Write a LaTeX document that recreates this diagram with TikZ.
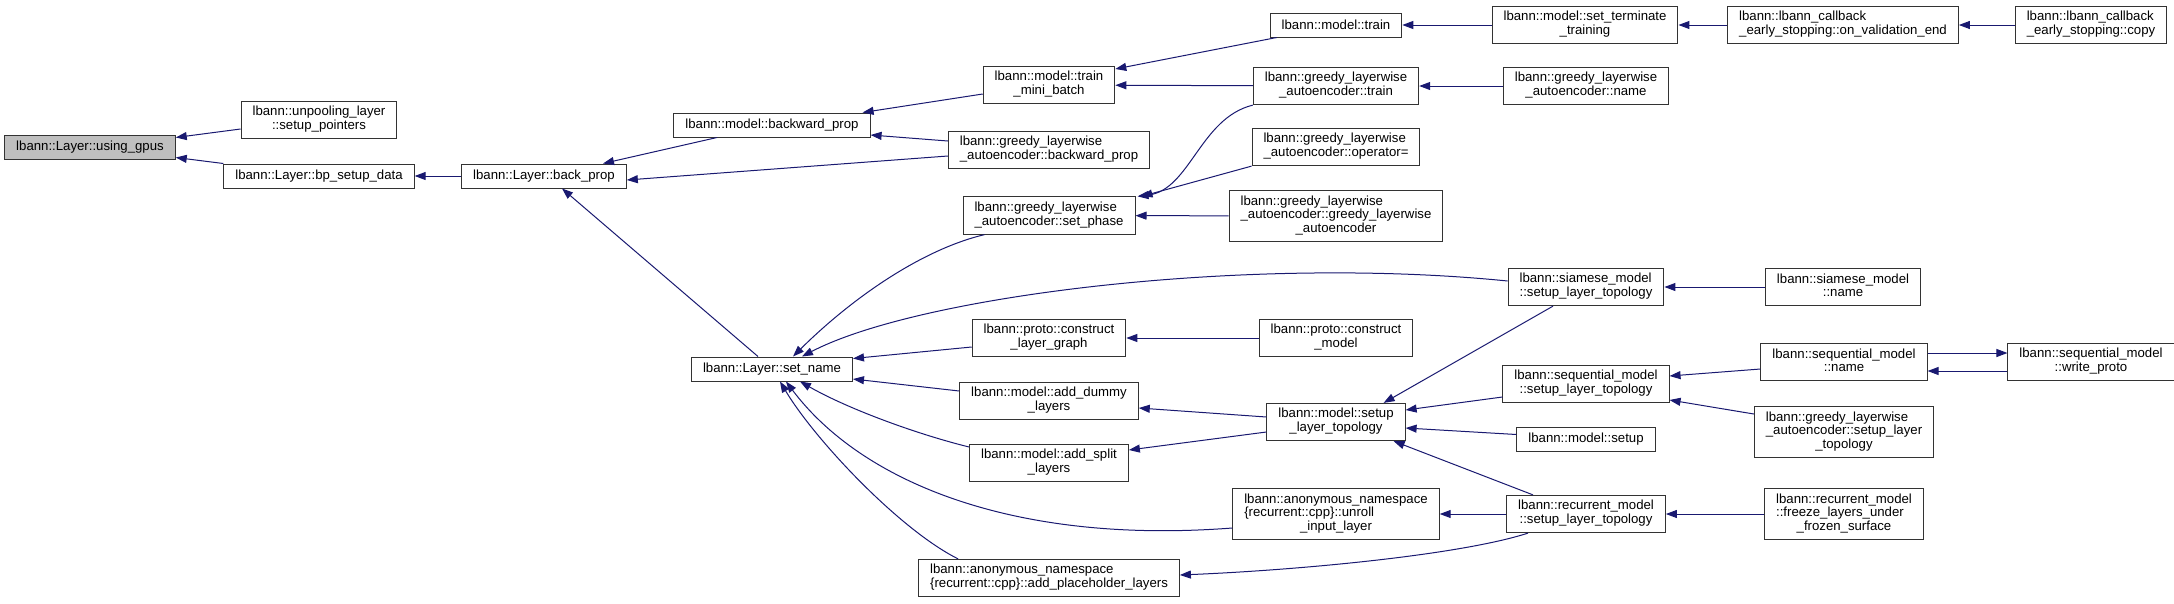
\documentclass[tikz,border=0pt]{standalone}
\usepackage{fontspec}
\setmainfont{Liberation Sans}
\usetikzlibrary{arrows.meta}
\definecolor{callblue}{HTML}{191970}
\tikzset{
    fnnode/.style={
        draw=black!80,
        line width=1pt,
        font=\fontsize{13.2}{13.5}\selectfont,
        inner xsep=11.5pt,
        inner ysep=5pt,
        minimum height=24pt
    },
    callarrow/.style={
        {Triangle[length=11pt,width=8pt]}-,
        draw=callblue,
        line width=1pt
    }
}
\newcommand{\twolines}[2]{\begin{tabular}{@{}l@{}}#1\\\multicolumn{1}{@{}c@{}}{#2}\end{tabular}}
\newcommand{\threelines}[3]{\begin{tabular}{@{}l@{}}#1\\#2\\\multicolumn{1}{@{}c@{}}{#3}\end{tabular}}

\begin{document}
\begin{tikzpicture}
[
    x=1pt,
    y=-1pt
]
\useasboundingbox (0,0) rectangle (2174,603);
\node[fnnode, fill=black!25] (usinggpus) at (90,147.5) {lbann::Layer::using\_gpus};
\node[fnnode] (setuppointers) at (319,120) {\twolines{lbann::unpooling\_layer}{::setup\_pointers}};
\node[fnnode] (bpsetupdata) at (319,176) {lbann::Layer::bp\_setup\_data};
\node[fnnode] (backprop) at (544,176) {lbann::Layer::back\_prop};
\node[fnnode] (backwardprop) at (772,125) {lbann::model::backward\_prop};
\node[fnnode] (setname) at (772,369) {lbann::Layer::set\_name};
\node[fnnode] (trainminibatch) at (1049,85) {\twolines{lbann::model::train}{\_mini\_batch}};
\node[fnnode] (gbackwardprop) at (1049,150) {\twolines{lbann::greedy\_layerwise}{\_autoencoder::backward\_prop}};
\node[fnnode] (setphase) at (1049,215.5) {\twolines{lbann::greedy\_layerwise}{\_autoencoder::set\_phase}};
\node[fnnode] (constructlayergraph) at (1049,338) {\twolines{lbann::proto::construct}{\_layer\_graph}};
\node[fnnode] (adddummylayers) at (1049,401) {\twolines{lbann::model::add\_dummy}{\_layers}};
\node[fnnode] (addsplitlayers) at (1049,463) {\twolines{lbann::model::add\_split}{\_layers}};
\node[fnnode] (addplaceholder) at (1049,578) {\twolines{lbann::anonymous\_namespace}{\{recurrent::cpp\}::add\_placeholder\_layers}};
\node[fnnode] (modeltrain) at (1336,25) {lbann::model::train};
\node[fnnode] (gtrain) at (1336,86) {\twolines{lbann::greedy\_layerwise}{\_autoencoder::train}};
\node[fnnode] (goperator) at (1336,147) {\twolines{lbann::greedy\_layerwise}{\_autoencoder::operator=}};
\node[fnnode] (gctor) at (1336,216) {\threelines{lbann::greedy\_layerwise}{\_autoencoder::greedy\_layerwise}{\_autoencoder}};
\node[fnnode] (constructmodel) at (1336,338) {\twolines{lbann::proto::construct}{\_model}};
\node[fnnode] (modelsetuptopo) at (1336,422) {\twolines{lbann::model::setup}{\_layer\_topology}};
\node[fnnode] (unrollinput) at (1336,514) {\threelines{lbann::anonymous\_namespace}{\{recurrent::cpp\}::unroll}{\_input\_layer}};
\node[fnnode] (setterminate) at (1585,25) {\twolines{lbann::model::set\_terminate}{\_training}};
\node[fnnode] (gname) at (1586,86) {\twolines{lbann::greedy\_layerwise}{\_autoencoder::name}};
\node[fnnode] (siamesetopo) at (1586,287) {\twolines{lbann::siamese\_model}{::setup\_layer\_topology}};
\node[fnnode] (seqtopo) at (1586,384) {\twolines{lbann::sequential\_model}{::setup\_layer\_topology}};
\node[fnnode] (modelsetup) at (1586,439.5) {lbann::model::setup};
\node[fnnode] (recurrenttopo) at (1586,514) {\twolines{lbann::recurrent\_model}{::setup\_layer\_topology}};
\node[fnnode] (onvalidationend) at (1843,25) {\twolines{lbann::lbann\_callback}{\_early\_stopping::on\_validation\_end}};
\node[fnnode] (siamesename) at (1843,287) {\twolines{lbann::siamese\_model}{::name}};
\node[fnnode] (seqname) at (1844,362) {\twolines{lbann::sequential\_model}{::name}};
\node[fnnode] (gsetuptopo) at (1844,432) {\threelines{lbann::greedy\_layerwise}{\_autoencoder::setup\_layer}{\_topology}};
\node[fnnode] (freezelayers) at (1844,514) {\threelines{lbann::recurrent\_model}{::freeze\_layers\_under}{\_frozen\_surface}};
\node[fnnode] (copy) at (2091,25) {\twolines{lbann::lbann\_callback}{\_early\_stopping::copy}};
\node[fnnode] (writeproto) at (2091,362) {\twolines{lbann::sequential\_model}{::write\_proto}};

\draw[callarrow] ([yshift=10pt]usinggpus.east) -- ([yshift=-9pt]setuppointers.west);
\draw[callarrow] ([yshift=-10pt]usinggpus.east) -- (bpsetupdata.north west);
\draw[callarrow] (bpsetupdata) -- (backprop);
\draw[callarrow] ([xshift=59pt]backprop.north) -- ([xshift=-55pt]backwardprop.south);
\draw[callarrow] ([yshift=-4pt]backprop.east) -- ([yshift=-6pt]gbackwardprop.west);
\draw[callarrow] ([xshift=18pt]backprop.south) -- ([xshift=-14pt]setname.north);
\draw[callarrow] ([xshift=-8pt]backwardprop.north east) -- ([yshift=-9pt]trainminibatch.west);
\draw[callarrow] ([yshift=-10pt]backwardprop.east) -- ([yshift=9pt]gbackwardprop.west);
\draw[callarrow] ([yshift=16pt]trainminibatch.east) -- ([xshift=7pt]modeltrain.south west);
\draw[callarrow] (trainminibatch) -- (gtrain);
\draw[callarrow] (modeltrain) -- (setterminate);
\draw[callarrow] (setterminate) -- (onvalidationend);
\draw[callarrow] (onvalidationend) -- (copy);
\draw[callarrow] (gtrain) -- (gname);
\draw[callarrow] ([xshift=2pt]setphase.north east) .. controls (1190,190) and (1200,118) .. (gtrain.south west);
\draw[callarrow] ([xshift=6pt]setphase.north east) -- (goperator.south west);
\draw[callarrow] (setphase) -- (gctor);
\draw[callarrow] ([xshift=21pt]setname.north) .. controls (850,300) and (920,250) .. ([xshift=22pt]setphase.south west);
\draw[callarrow] ([xshift=30pt]setname.north) .. controls (920,295) and (1250,255) .. ([yshift=6pt]siamesetopo.west);
\draw[callarrow] ([yshift=-2pt]setname.north east) -- ([yshift=-9pt]constructlayergraph.west);
\draw[callarrow] ([yshift=-10pt]setname.east) -- ([yshift=10pt]adddummylayers.west);
\draw[callarrow] ([xshift=28pt]setname.south) .. controls (850,410) and (920,435) .. ([yshift=16pt]addsplitlayers.west);
\draw[callarrow] ([xshift=14pt]setname.south) .. controls (860,480) and (1010,545) .. ([yshift=-14pt]unrollinput.west);
\draw[callarrow] ([xshift=8pt]setname.south) .. controls (815,440) and (900,530) .. ([xshift=40pt]addplaceholder.north west);
\draw[callarrow] (constructlayergraph) -- (constructmodel);
\draw[callarrow] ([yshift=-7pt]adddummylayers.east) -- ([yshift=5pt]modelsetuptopo.west);
\draw[callarrow] ([yshift=13pt]addsplitlayers.east) -- ([yshift=-10pt]modelsetuptopo.west);
\draw[callarrow] ([xshift=-22pt]modelsetuptopo.north east) -- ([xshift=-33pt]siamesetopo.south);
\draw[callarrow] ([yshift=12pt]modelsetuptopo.east) -- ([yshift=-13pt]seqtopo.west);
\draw[callarrow] ([yshift=-6pt]modelsetuptopo.east) -- ([yshift=5pt]modelsetup.west);
\draw[callarrow] ([xshift=-12pt]modelsetuptopo.south east) -- ([xshift=-53pt]recurrenttopo.north);
\draw[callarrow] (unrollinput) -- (recurrenttopo);
\draw[callarrow] ([yshift=3pt]addplaceholder.east) .. controls (1300,570) and (1460,555) .. ([xshift=-58pt]recurrenttopo.south);
\draw[callarrow] (siamesetopo) -- (siamesename);
\draw[callarrow] ([yshift=8pt]seqtopo.east) -- ([yshift=-7pt]seqname.west);
\draw[callarrow] ([yshift=-16pt]seqtopo.east) -- ([yshift=18pt]gsetuptopo.west);
\draw[callarrow] ([yshift=-9pt]seqname.east) -- ([yshift=-9pt]writeproto.west);
\draw[callarrow] ([yshift=9pt]writeproto.west) -- ([yshift=9pt]seqname.east);
\draw[callarrow] (recurrenttopo) -- (freezelayers);
\end{tikzpicture}
\end{document}
